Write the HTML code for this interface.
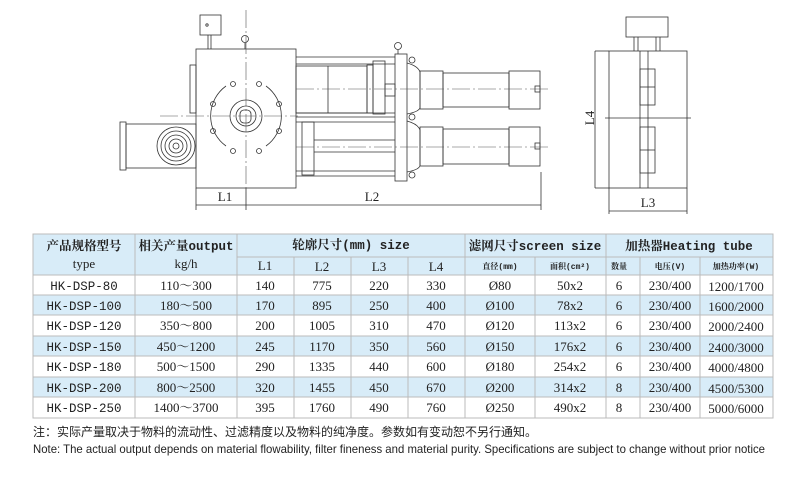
<!DOCTYPE html>
<html><head><meta charset="utf-8"><style>
html,body{margin:0;padding:0;background:#fff;width:800px;height:477px;overflow:hidden}
svg{display:block}
.d{fill:none;stroke:#333;stroke-width:0.8}
.c{fill:none;stroke:#555;stroke-width:0.6;stroke-dasharray:18 3 2 3}
.t{font-family:"Liberation Serif","Noto Serif CJK SC",serif;font-size:13px;fill:#222;text-anchor:middle}
.h{font-family:"Liberation Mono","Noto Serif CJK SC",serif;font-size:12.5px;font-weight:bold;fill:#222;text-anchor:middle}
.s{font-family:"Liberation Mono","Noto Serif CJK SC",serif;font-size:8px;font-weight:bold;fill:#222;text-anchor:middle}
.m{font-family:"Liberation Mono",monospace;font-size:12.5px;fill:#222;text-anchor:middle}
</style></head><body>
<svg width="800" height="477" viewBox="0 0 800 477">
<!-- main drawing -->
<g class="d">
<rect x="200" y="15" width="21" height="20"/><circle cx="207" cy="25" r="1.2"/>
<line x1="208" y1="35" x2="208" y2="49"/><line x1="211" y1="35" x2="211" y2="49"/>
<circle cx="245" cy="39" r="3.5"/><line x1="245" y1="43" x2="245" y2="49"/>
<rect x="196" y="49" width="100" height="139"/>
<rect x="190" y="65" width="6" height="48"/>
<rect x="120" y="122" width="6" height="48"/>
<rect x="126" y="124" width="70" height="44"/>
<circle cx="176" cy="146" r="19"/><circle cx="176" cy="146" r="15"/><circle cx="176" cy="146" r="11"/><circle cx="176" cy="146" r="7"/><circle cx="176" cy="146" r="3"/>
<path d="M226 86 A37 37 0 0 0 226 146" /><path d="M266 86 A37 37 0 0 1 266 146"/>
<circle cx="233" cy="84" r="2.5"/><circle cx="259" cy="84" r="2.5"/><circle cx="213" cy="104" r="2.5"/><circle cx="279" cy="104" r="2.5"/>
<circle cx="213" cy="131" r="2.5"/><circle cx="279" cy="131" r="2.5"/><circle cx="233" cy="151" r="2.5"/><circle cx="259" cy="151" r="2.5"/>
<circle cx="246" cy="116" r="16"/><circle cx="246" cy="116" r="10"/><rect x="240" y="110" width="11" height="13" rx="4"/>
<line x1="296" y1="57" x2="395" y2="57"/><line x1="296" y1="64" x2="395" y2="64"/>
<rect x="296" y="66" width="71" height="47"/><line x1="328" y1="66" x2="328" y2="113"/>
<rect x="367" y="65" width="6" height="48"/><rect x="373" y="61" width="12" height="53"/><rect x="385" y="84" width="10" height="12"/>
<line x1="296" y1="113" x2="395" y2="113"/><line x1="296" y1="117" x2="395" y2="117"/><line x1="296" y1="122" x2="395" y2="122"/>
<rect x="302" y="122" width="12" height="53"/><line x1="314" y1="140" x2="395" y2="140"/><line x1="314" y1="152" x2="395" y2="152"/>
<line x1="296" y1="171" x2="395" y2="171"/><line x1="296" y1="176" x2="395" y2="176"/>
<rect x="395" y="54" width="12" height="127"/>
<circle cx="398" cy="46" r="3.5"/><line x1="398" y1="50" x2="398" y2="54"/>
<circle cx="412" cy="60" r="3"/><circle cx="412" cy="117" r="3"/><circle cx="412" cy="175" r="3"/>
<path d="M407 63 Q418 66 420 72 L420 108 Q418 112 407 114"/>
<path d="M407 121 Q418 124 420 130 L420 166 Q418 170 407 172"/>
<rect x="420" y="71" width="23" height="38"/><rect x="443" y="73" width="66" height="34"/><rect x="509" y="71" width="31" height="38"/><rect x="535" y="86" width="5" height="6"/>
<rect x="420" y="127" width="23" height="39"/><rect x="443" y="129" width="66" height="35"/><rect x="509" y="127" width="31" height="39"/><rect x="535" y="143" width="5" height="6"/>
<line x1="541" y1="172" x2="541" y2="210"/>
<line x1="196" y1="188" x2="196" y2="210"/><line x1="246" y1="188" x2="246" y2="210"/>
<line x1="196" y1="205" x2="541" y2="205"/>
</g>
<g class="c">
<line x1="246" y1="10" x2="246" y2="200"/><line x1="160" y1="116" x2="298" y2="116"/>
<line x1="296" y1="89" x2="550" y2="89"/><line x1="296" y1="147" x2="550" y2="147"/>
</g>
<text x="225" y="201" class="t" font-size="14">L1</text><text x="372" y="201" class="t" font-size="14">L2</text>
<!-- side view -->
<g class="d">
<rect x="626" y="17" width="42" height="20"/>
<line x1="634" y1="37" x2="634" y2="51"/><line x1="638" y1="37" x2="638" y2="51"/><line x1="656" y1="37" x2="656" y2="51"/><line x1="660" y1="37" x2="660" y2="51"/>
<rect x="609" y="51" width="78" height="137"/>
<line x1="640" y1="51" x2="640" y2="188"/><line x1="648" y1="51" x2="648" y2="188"/>
<rect x="640" y="69" width="15" height="36"/><line x1="640" y1="87" x2="655" y2="87"/>
<rect x="640" y="127" width="15" height="46"/><line x1="640" y1="150" x2="655" y2="150"/>
<line x1="605" y1="118" x2="691" y2="118"/>
<line x1="595" y1="51" x2="609" y2="51"/><line x1="595" y1="188" x2="609" y2="188"/><line x1="595" y1="51" x2="595" y2="188"/>
<line x1="609" y1="188" x2="609" y2="214"/><line x1="687" y1="188" x2="687" y2="214"/><line x1="609" y1="211" x2="687" y2="211"/>
</g>
<text x="0" y="0" class="t" font-size="15" transform="translate(594,118) rotate(-90)">L4</text>
<text x="648" y="207" class="t" font-size="15">L3</text>
<!-- table -->
<rect x="33" y="234" width="740" height="41" fill="#d8ecf8"/>
<rect x="33" y="295" width="740" height="20" fill="#d8ecf8"/>
<rect x="33" y="336" width="740" height="20" fill="#d8ecf8"/>
<rect x="33" y="377" width="740" height="20" fill="#d8ecf8"/>
<g stroke="#bbb" stroke-width="1" fill="none">
<rect x="33" y="234" width="740" height="184"/>
<line x1="237" y1="257" x2="773" y2="257"/>
<line x1="33" y1="275" x2="773" y2="275"/><line x1="33" y1="295" x2="773" y2="295"/><line x1="33" y1="315" x2="773" y2="315"/>
<line x1="33" y1="336" x2="773" y2="336"/><line x1="33" y1="356" x2="773" y2="356"/><line x1="33" y1="377" x2="773" y2="377"/><line x1="33" y1="397" x2="773" y2="397"/>
<line x1="135" y1="234" x2="135" y2="418"/><line x1="237" y1="234" x2="237" y2="418"/>
<line x1="294" y1="257" x2="294" y2="418"/><line x1="351" y1="257" x2="351" y2="418"/><line x1="408" y1="257" x2="408" y2="418"/>
<line x1="465" y1="234" x2="465" y2="418"/><line x1="535" y1="257" x2="535" y2="418"/><line x1="606" y1="234" x2="606" y2="418"/>
<line x1="640" y1="257" x2="640" y2="418"/><line x1="700" y1="257" x2="700" y2="418"/>
</g>
<text x="84" y="250" class="h">产品规格型号</text><text x="84" y="268" class="t">type</text>
<text x="186" y="250" class="h">相关产量output</text><text x="186" y="268" class="t">kg/h</text>
<text x="351" y="249" class="h">轮廓尺寸(mm) size</text>
<text x="535" y="250" class="h">滤网尺寸screen size</text>
<text x="689" y="250" class="h">加热器Heating tube</text>
<text x="265" y="270" class="t" font-size="11">L1</text><text x="322" y="271" class="t">L2</text><text x="379" y="271" class="t">L3</text><text x="436" y="271" class="t">L4</text>
<text x="500" y="269" class="s">直径(mm)</text><text x="570" y="269" class="s">面积(cm²)</text><text x="619" y="269" class="s">数量</text><text x="670" y="269" class="s">电压(V)</text><text x="736" y="269" class="s">加热功率(W)</text>
<g class="t">
<text x="84" y="290" class="m">HK-DSP-80</text><text x="186" y="290">110～300</text><text x="265" y="290">140</text><text x="322" y="290">775</text><text x="379" y="290">220</text><text x="436" y="290">330</text><text x="500" y="290">Ø80</text><text x="570" y="290">50x2</text><text x="619" y="290">6</text><text x="670" y="290">230/400</text><text x="736" y="291">1200/1700</text>
<text x="84" y="310" class="m">HK-DSP-100</text><text x="186" y="310">180～500</text><text x="265" y="310">170</text><text x="322" y="310">895</text><text x="379" y="310">250</text><text x="436" y="310">400</text><text x="500" y="310">Ø100</text><text x="570" y="310">78x2</text><text x="619" y="310">6</text><text x="670" y="310">230/400</text><text x="736" y="311">1600/2000</text>
<text x="84" y="330" class="m">HK-DSP-120</text><text x="186" y="330">350～800</text><text x="265" y="330">200</text><text x="322" y="330">1005</text><text x="379" y="330">310</text><text x="436" y="330">470</text><text x="500" y="330">Ø120</text><text x="570" y="330">113x2</text><text x="619" y="330">6</text><text x="670" y="330">230/400</text><text x="736" y="331">2000/2400</text>
<text x="84" y="351" class="m">HK-DSP-150</text><text x="186" y="351">450～1200</text><text x="265" y="351">245</text><text x="322" y="351">1170</text><text x="379" y="351">350</text><text x="436" y="351">560</text><text x="500" y="351">Ø150</text><text x="570" y="351">176x2</text><text x="619" y="351">6</text><text x="670" y="351">230/400</text><text x="736" y="352">2400/3000</text>
<text x="84" y="371" class="m">HK-DSP-180</text><text x="186" y="371">500～1500</text><text x="265" y="371">290</text><text x="322" y="371">1335</text><text x="379" y="371">440</text><text x="436" y="371">600</text><text x="500" y="371">Ø180</text><text x="570" y="371">254x2</text><text x="619" y="371">6</text><text x="670" y="371">230/400</text><text x="736" y="372">4000/4800</text>
<text x="84" y="392" class="m">HK-DSP-200</text><text x="186" y="392">800～2500</text><text x="265" y="392">320</text><text x="322" y="392">1455</text><text x="379" y="392">450</text><text x="436" y="392">670</text><text x="500" y="392">Ø200</text><text x="570" y="392">314x2</text><text x="619" y="392">8</text><text x="670" y="392">230/400</text><text x="736" y="393">4500/5300</text>
<text x="84" y="412" class="m">HK-DSP-250</text><text x="186" y="412">1400～3700</text><text x="265" y="412">395</text><text x="322" y="412">1760</text><text x="379" y="412">490</text><text x="436" y="412">760</text><text x="500" y="412">Ø250</text><text x="570" y="412">490x2</text><text x="619" y="412">8</text><text x="670" y="412">230/400</text><text x="736" y="413">5000/6000</text>
</g>
<text x="33" y="436" font-family="'Liberation Sans','Noto Sans CJK SC',sans-serif" font-size="12" fill="#222">注：实际产量取决于物料的流动性、过滤精度以及物料的纯净度。参数如有变动恕不另行通知。</text>
<text x="33" y="453" font-family="'Liberation Sans',sans-serif" font-size="11.6" fill="#222" textLength="732" lengthAdjust="spacingAndGlyphs">Note: The actual output depends on material flowability, filter fineness and material purity. Specifications are subject to change without prior notice</text>
</svg>
</body></html>
